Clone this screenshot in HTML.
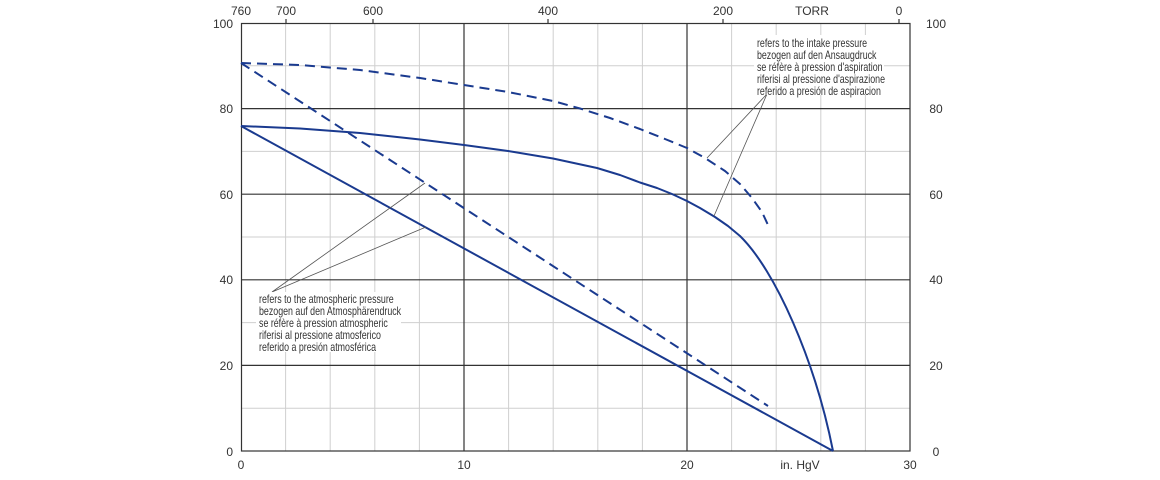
<!DOCTYPE html>
<html><head><meta charset="utf-8"><style>
html,body{margin:0;padding:0;background:#fff;}
svg{display:block;font-family:"Liberation Sans",sans-serif;}
</style></head><body>
<svg width="1160" height="480" viewBox="0 0 1160 480" xmlns="http://www.w3.org/2000/svg">
<g stroke="#cfcfcf" stroke-width="1">
<line x1="285.6" y1="23" x2="285.6" y2="451"/><line x1="330.2" y1="23" x2="330.2" y2="451"/><line x1="374.8" y1="23" x2="374.8" y2="451"/><line x1="419.4" y1="23" x2="419.4" y2="451"/>
<line x1="508.6" y1="23" x2="508.6" y2="451"/><line x1="553.2" y1="23" x2="553.2" y2="451"/><line x1="597.8" y1="23" x2="597.8" y2="451"/><line x1="642.4" y1="23" x2="642.4" y2="451"/>
<line x1="731.6" y1="23" x2="731.6" y2="451"/><line x1="776.2" y1="23" x2="776.2" y2="451"/><line x1="820.8" y1="23" x2="820.8" y2="451"/><line x1="865.4" y1="23" x2="865.4" y2="451"/>
<line x1="241" y1="65.8" x2="910" y2="65.8"/><line x1="241" y1="151.4" x2="910" y2="151.4"/><line x1="241" y1="237" x2="910" y2="237"/><line x1="241" y1="322.6" x2="910" y2="322.6"/><line x1="241" y1="408.2" x2="910" y2="408.2"/>
</g>
<g stroke="#333" stroke-width="1.2">
<line x1="464" y1="23" x2="464" y2="451"/><line x1="687" y1="23" x2="687" y2="451"/>
<line x1="241" y1="108.6" x2="910" y2="108.6"/><line x1="241" y1="194.2" x2="910" y2="194.2"/><line x1="241" y1="279.8" x2="910" y2="279.8"/><line x1="241" y1="365.4" x2="910" y2="365.4"/>
<rect x="241.5" y="23.5" width="668.5" height="427.5" fill="none"/>
<line x1="286" y1="19" x2="286" y2="23"/><line x1="373" y1="19" x2="373" y2="23"/><line x1="548" y1="19" x2="548" y2="23"/><line x1="723" y1="19" x2="723" y2="23"/><line x1="899" y1="19" x2="899" y2="23"/>
</g>
<g font-size="12" fill="#333">
<text x="241" y="15" text-anchor="middle">760</text><text x="286" y="15" text-anchor="middle">700</text><text x="373" y="15" text-anchor="middle">600</text><text x="548" y="15" text-anchor="middle">400</text><text x="723" y="15" text-anchor="middle">200</text><text x="812" y="15" text-anchor="middle">TORR</text><text x="899" y="15" text-anchor="middle">0</text>
<g text-anchor="end"><text x="233" y="28">100</text><text x="233" y="113">80</text><text x="233" y="199">60</text><text x="233" y="284">40</text><text x="233" y="370">20</text><text x="233" y="456">0</text></g>
<g text-anchor="middle"><text x="936" y="28">100</text><text x="936" y="113">80</text><text x="936" y="199">60</text><text x="936" y="284">40</text><text x="936" y="370">20</text><text x="936" y="456">0</text>
<text x="241" y="469">0</text><text x="464" y="469">10</text><text x="687" y="469">20</text><text x="800" y="469">in. HgV</text><text x="910" y="469">30</text></g>
</g>
<g fill="none" stroke="#1a3a8f" stroke-width="2" stroke-linejoin="round">
<line x1="241" y1="126" x2="833" y2="451"/>
<path d="M241,126 L300,128.5 L360,133 L420,139.5 L464,145 L508,151 L553,158.5 L597,168 L620,175 L640,182.5 L657,188 L672,194 L687,201 L700,208 L715,217 L728,226 L740,236 C775,270 815,360 833,451"/>
<polyline stroke-dasharray="10,6" points="241,63 768,406"/>
<polyline stroke-dasharray="10,6" points="241,63 300,65 360,70 420,78 464,85 508,92 553,101 580,108.5 610,118 640,129 665,139 687,148 705,158 725,171 740,184 752,198 762,212 768,225"/>
</g>
<g stroke="#555" stroke-width="0.8" fill="none">
<polyline points="425,183 272,292 426,227"/>
<polyline points="707,158 767,94 714,216"/>
</g>
<rect x="256" y="292" width="145" height="60" fill="#fff"/>
<rect x="754" y="35" width="130" height="60" fill="#fff"/>
<g font-size="11.5" fill="#333" transform="scale(0.77,1)">
<text x="336.4" y="303">refers to the atmospheric pressure</text>
<text x="336.4" y="315">bezogen auf den Atmosphärendruck</text>
<text x="336.4" y="327">se réfère à pression atmospheric</text>
<text x="336.4" y="339">riferisi al pressione atmosferico</text>
<text x="336.4" y="351">referido a presión atmosférica</text>
<text x="983.1" y="47">refers to the intake pressure</text>
<text x="983.1" y="59">bezogen auf den Ansaugdruck</text>
<text x="983.1" y="71">se réfère à pression d'aspiration</text>
<text x="983.1" y="83">riferisi al pressione d'aspirazione</text>
<text x="983.1" y="95">referido a presión de aspiracion</text>
</g>
</svg>
</body></html>
